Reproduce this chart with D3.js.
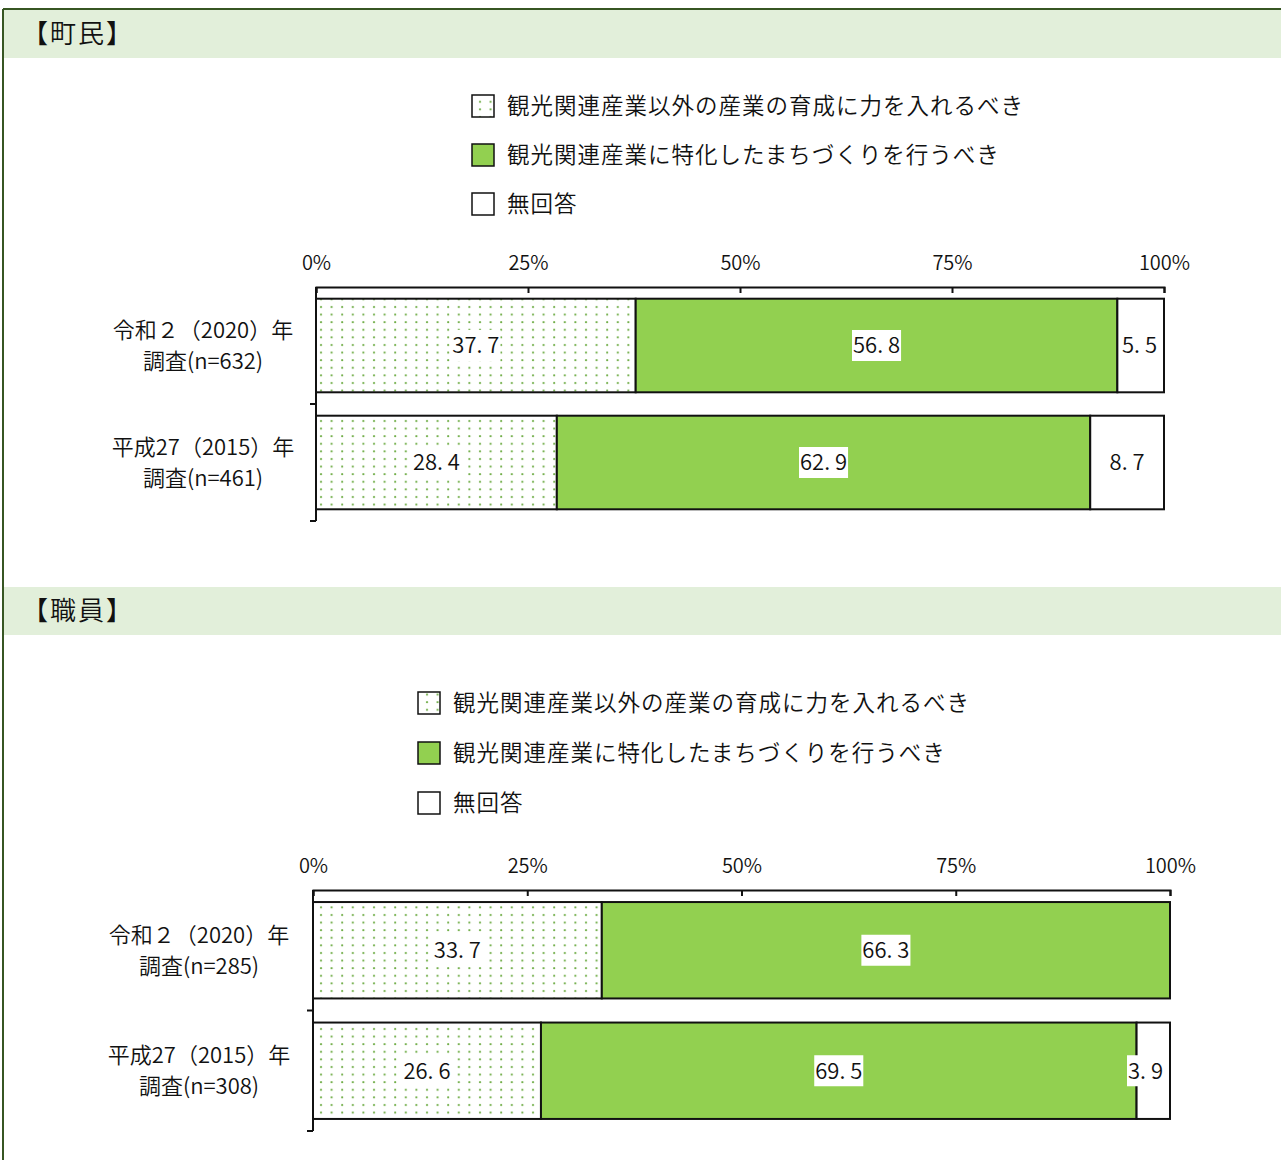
<!DOCTYPE html>
<html><head><meta charset="utf-8">
<script src="https://cdn.jsdelivr.net/npm/d3@7"></script>
<style>
body{margin:0;background:#fff;}
text{font-family:"Noto Sans CJK JP","Noto Sans",sans-serif;fill:#111;font-weight:350;}
</style></head>
<body><svg id="c" width="1281" height="1160"></svg>
<script>
// ---- data ----
const seriesNames = ["観光関連産業以外の産業の育成に力を入れるべき", "観光関連産業に特化したまちづくりを行うべき", "無回答"];
const seriesKeys = ["other", "tourism", "noAnswer"];
const residentTitle = "【町民】";
const residentCategories = ["令和２（2020）年|調査(n=632)", "平成27（2015）年|調査(n=461)"];
const residentOther = [37.7, 28.4];
const residentTourism = [56.8, 62.9];
const residentNoAnswer = [5.5, 8.7];
const staffTitle = "【職員】";
const staffCategories = ["令和２（2020）年|調査(n=285)", "平成27（2015）年|調査(n=308)"];
const staffOther = [33.7, 26.6];
const staffTourism = [66.3, 69.5];
const staffNoAnswer = [0, 3.9];
const tickValues = [0, 25, 50, 75, 100];

// ---- styles / layout ----
const fills = ["url(#dots)", "#92D050", "#ffffff"];
const frameColor = "#375623";
const headerFill = "#E2EFDA";

const svg = d3.select("#c");
const defs = svg.append("defs");
const pat = defs.append("pattern").attr("id", "dots").attr("patternUnits", "userSpaceOnUse")
  .attr("width", 10.6).attr("height", 7.6);
pat.append("rect").attr("width", 10.6).attr("height", 7.6).attr("fill", "#fff");
pat.append("circle").attr("cx", 3).attr("cy", 3).attr("r", 1.1).attr("fill", "#70AD47");

// frame
svg.append("line").attr("x1", 3).attr("x2", 1281).attr("y1", 9).attr("y2", 9).attr("stroke", frameColor).attr("stroke-width", 2);
svg.append("line").attr("x1", 3).attr("x2", 3).attr("y1", 9).attr("y2", 1160).attr("stroke", frameColor).attr("stroke-width", 2);

const panels = [
  {title: residentTitle, cats: residentCategories, vals: [residentOther, residentTourism, residentNoAnswer],
   headerY: 10, headerH: 48, legX: 472, legY: 106, legStep: 49, x0: 316, x1: 1164, axisY: 287, bottom: 521, catX: 203},
  {title: staffTitle, cats: staffCategories, vals: [staffOther, staffTourism, staffNoAnswer],
   headerY: 587, headerH: 48, legX: 418, legY: 703, legStep: 50, x0: 313, x1: 1170, axisY: 890, bottom: 1131, catX: 199}
];

panels.forEach(p => {
  const g = svg.append("g");
  // header
  g.append("rect").attr("x", 4).attr("y", p.headerY).attr("width", 1277).attr("height", p.headerH).attr("fill", headerFill);
  g.append("text").attr("x", 22).attr("y", p.headerY + p.headerH / 2).attr("dy", "0.36em")
    .style("font-size", "26px").style("letter-spacing", "2px").text(p.title);

  // legend
  seriesNames.forEach((name, i) => {
    const cy = p.legY + i * p.legStep;
    g.append("rect").attr("x", p.legX).attr("y", cy - 11).attr("width", 22).attr("height", 22)
      .attr("fill", fills[i]).attr("stroke", "#111").attr("stroke-width", 1.5);
    g.append("text").attr("x", p.legX + 35).attr("y", cy).attr("dy", "0.36em")
      .style("font-size", "22.5px").style("letter-spacing", "1px").text(name);
  });

  // scales
  const x = d3.scaleLinear().domain([0, 100]).range([p.x0, p.x1]);
  const y = d3.scaleBand().domain(p.cats).range([p.axisY, p.bottom]).paddingInner(0.2).paddingOuter(0.1);

  // stacked data
  const rows = p.cats.map((c, i) => {
    const r = {cat: c};
    seriesKeys.forEach((k, j) => r[k] = p.vals[j][i]);
    return r;
  });
  const stacked = d3.stack().keys(seriesKeys)(rows);

  // bars
  stacked.forEach((layer, si) => {
    g.append("g").selectAll("rect").data(layer.filter(d => d[1] - d[0] > 0)).join("rect")
      .attr("x", d => x(d[0])).attr("width", d => x(d[1]) - x(d[0]))
      .attr("y", d => y(d.data.cat)).attr("height", y.bandwidth())
      .attr("fill", fills[si]).attr("stroke", "#111").attr("stroke-width", 2);
  });

  // top axis
  const ax = g.append("g").attr("transform", `translate(0,${p.axisY})`)
    .call(d3.axisTop(x).tickValues(tickValues).tickFormat(d => d + "%").tickSizeInner(-6).tickSizeOuter(-6).tickPadding(17));
  ax.selectAll("path,line").attr("stroke", "#111").attr("stroke-width", 2);
  ax.selectAll("text").style("font-size", "20px").style("font-family", '"Noto Sans CJK JP",sans-serif').style("font-weight", "350").attr("fill", "#111");

  // left axis: line + boundary ticks
  const step = y.step();
  g.append("line").attr("x1", p.x0).attr("x2", p.x0).attr("y1", p.axisY).attr("y2", p.bottom).attr("stroke", "#111").attr("stroke-width", 2);
  p.cats.forEach(c => {
    const by = y(c) + y.bandwidth() + step * 0.1;
    g.append("line").attr("x1", p.x0 - 6).attr("x2", p.x0).attr("y1", by).attr("y2", by).attr("stroke", "#111").attr("stroke-width", 2);
  });

  // category labels
  p.cats.forEach(c => {
    const lines = c.split("|");
    const cy = y(c) + y.bandwidth() / 2;
    const t = g.append("text").attr("x", p.catX).attr("text-anchor", "middle").style("font-size", "22px");
    lines.forEach((l, i) => t.append("tspan").attr("x", p.catX).attr("y", cy + (i - 0.5) * 31).attr("dy", "0.36em").text(l));
  });

  // value labels
  stacked.forEach(layer => {
    layer.forEach(d => {
      const v = d[1] - d[0];
      if (v <= 0) return;
      const lg = g.append("g");
      const txt = lg.append("text").attr("text-anchor", "middle").attr("dy", "0.36em")
        .style("font-size", "22px").text(v.toFixed(1).replace(".", ". "));
      const w = txt.node().getComputedTextLength();
      let cx = (x(d[0]) + x(d[1])) / 2;
      cx = Math.min(cx, p.x1 - 7 - w / 2);
      const cy = y(d.data.cat) + y.bandwidth() / 2;
      txt.attr("x", cx).attr("y", cy);
      lg.insert("rect", "text").attr("x", cx - w / 2 - 1).attr("y", cy - 15.5).attr("width", w + 2).attr("height", 31).attr("fill", "#fff");
    });
  });
});
</script></body></html>
